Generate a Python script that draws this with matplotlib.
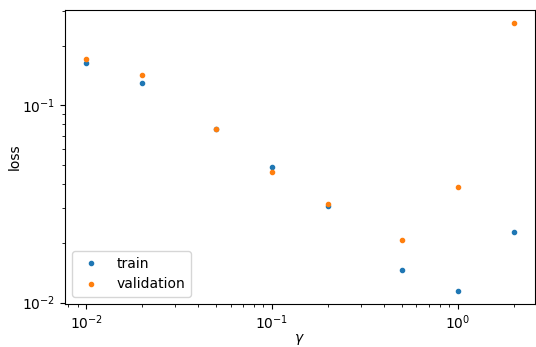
import matplotlib
matplotlib.use("Agg")
import matplotlib.pyplot as plt

gammas = [0.01, 0.02, 0.05, 0.1, 0.2, 0.5, 1.0, 2.0]
train_loss = [0.164, 0.129, 0.0759, 0.0484, 0.0309, 0.0146, 0.0115, 0.0229]
val_loss = [0.172, 0.143, 0.0762, 0.0457, 0.0316, 0.0207, 0.0385, 0.260]

fig, ax = plt.subplots(figsize=(5.36, 3.47), dpi=100)
fig.subplots_adjust(left=0.121, right=0.998, top=0.971, bottom=0.124)

ax.plot(gammas, train_loss, '.', label='train')
ax.plot(gammas, val_loss, '.', label='validation')
ax.set_xscale('log')
ax.set_yscale('log')
ax.set_xlabel(r'$\gamma$', labelpad=0)
ax.set_ylabel('loss', labelpad=0)
ax.legend(loc='lower left')

fig.savefig('out.png', dpi=100)
